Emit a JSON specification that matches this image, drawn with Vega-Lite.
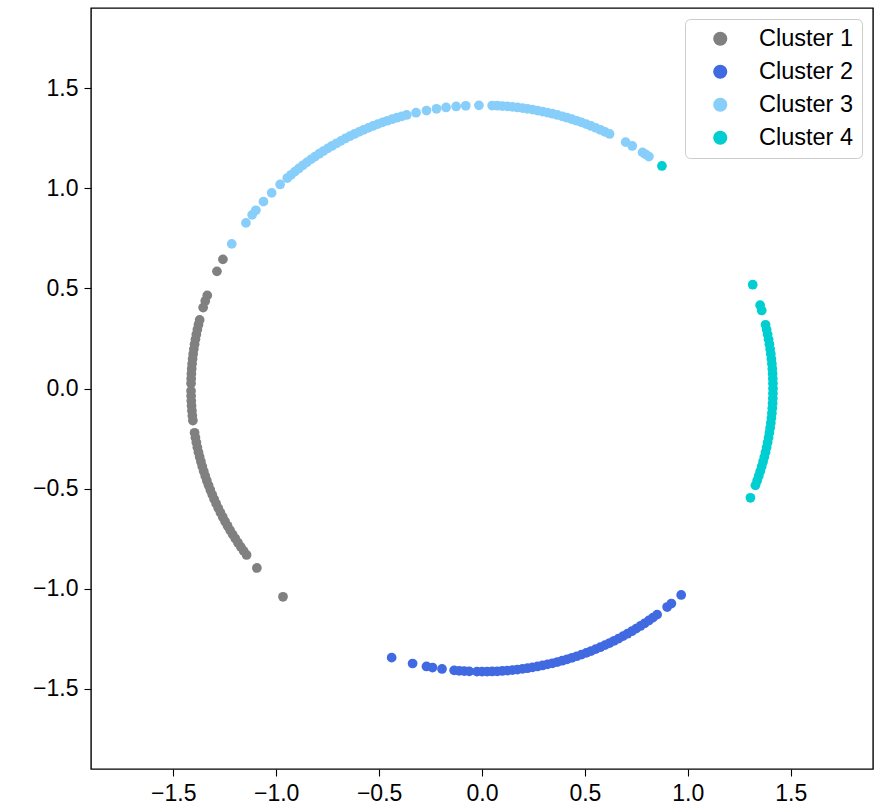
{
  "$schema": "https://vega.github.io/schema/vega-lite/v6.json",
  "width": 782,
  "height": 761,
  "autosize": {"type": "none"},
  "padding": {"left": 91, "top": 8, "right": 9, "bottom": 37},
  "background": "white",
  "config": {
    "view": {"stroke": "black", "strokeWidth": 1.4},
    "font": "Liberation Sans",
    "axis": {"domain": false, "grid": false, "ticks": true, "tickColor": "black", "tickSize": 7, "tickWidth": 1.1, "labelColor": "black", "labelFontSize": 23, "labelFont": "Liberation Sans", "labelPadding": 6, "title": null}
  },
  "data": {"values": [
    {"x": -1.259, "y": 0.645, "cluster": "Cluster 1"},
    {"x": -1.288, "y": 0.585, "cluster": "Cluster 1"},
    {"x": -1.335, "y": 0.465, "cluster": "Cluster 1"},
    {"x": -1.3448, "y": 0.437, "cluster": "Cluster 1"},
    {"x": -1.355, "y": 0.404, "cluster": "Cluster 1"},
    {"x": -1.372, "y": 0.3421, "cluster": "Cluster 1"},
    {"x": -1.3778, "y": 0.3181, "cluster": "Cluster 1"},
    {"x": -1.3831, "y": 0.294, "cluster": "Cluster 1"},
    {"x": -1.388, "y": 0.2698, "cluster": "Cluster 1"},
    {"x": -1.3925, "y": 0.2455, "cluster": "Cluster 1"},
    {"x": -1.3966, "y": 0.2212, "cluster": "Cluster 1"},
    {"x": -1.4002, "y": 0.1968, "cluster": "Cluster 1"},
    {"x": -1.4035, "y": 0.1723, "cluster": "Cluster 1"},
    {"x": -1.4063, "y": 0.1478, "cluster": "Cluster 1"},
    {"x": -1.4086, "y": 0.1232, "cluster": "Cluster 1"},
    {"x": -1.4106, "y": 0.0986, "cluster": "Cluster 1"},
    {"x": -1.4121, "y": 0.074, "cluster": "Cluster 1"},
    {"x": -1.4131, "y": 0.0493, "cluster": "Cluster 1"},
    {"x": -1.4138, "y": 0.0247, "cluster": "Cluster 1"},
    {"x": -1.4139, "y": -0.0123, "cluster": "Cluster 1"},
    {"x": -1.4135, "y": -0.037, "cluster": "Cluster 1"},
    {"x": -1.4127, "y": -0.0617, "cluster": "Cluster 1"},
    {"x": -1.4114, "y": -0.0863, "cluster": "Cluster 1"},
    {"x": -1.4096, "y": -0.1109, "cluster": "Cluster 1"},
    {"x": -1.4075, "y": -0.1355, "cluster": "Cluster 1"},
    {"x": -1.4049, "y": -0.1601, "cluster": "Cluster 1"},
    {"x": -1.3966, "y": -0.2212, "cluster": "Cluster 1"},
    {"x": -1.3925, "y": -0.2455, "cluster": "Cluster 1"},
    {"x": -1.388, "y": -0.2698, "cluster": "Cluster 1"},
    {"x": -1.3831, "y": -0.294, "cluster": "Cluster 1"},
    {"x": -1.3778, "y": -0.3181, "cluster": "Cluster 1"},
    {"x": -1.372, "y": -0.3421, "cluster": "Cluster 1"},
    {"x": -1.3658, "y": -0.366, "cluster": "Cluster 1"},
    {"x": -1.3592, "y": -0.3898, "cluster": "Cluster 1"},
    {"x": -1.3522, "y": -0.4134, "cluster": "Cluster 1"},
    {"x": -1.3448, "y": -0.437, "cluster": "Cluster 1"},
    {"x": -1.337, "y": -0.4604, "cluster": "Cluster 1"},
    {"x": -1.3287, "y": -0.4836, "cluster": "Cluster 1"},
    {"x": -1.3201, "y": -0.5067, "cluster": "Cluster 1"},
    {"x": -1.311, "y": -0.5297, "cluster": "Cluster 1"},
    {"x": -1.3016, "y": -0.5525, "cluster": "Cluster 1"},
    {"x": -1.2918, "y": -0.5751, "cluster": "Cluster 1"},
    {"x": -1.2815, "y": -0.5976, "cluster": "Cluster 1"},
    {"x": -1.2709, "y": -0.6199, "cluster": "Cluster 1"},
    {"x": -1.2599, "y": -0.6419, "cluster": "Cluster 1"},
    {"x": -1.2485, "y": -0.6638, "cluster": "Cluster 1"},
    {"x": -1.2367, "y": -0.6855, "cluster": "Cluster 1"},
    {"x": -1.2246, "y": -0.707, "cluster": "Cluster 1"},
    {"x": -1.212, "y": -0.7283, "cluster": "Cluster 1"},
    {"x": -1.1991, "y": -0.7493, "cluster": "Cluster 1"},
    {"x": -1.1859, "y": -0.7701, "cluster": "Cluster 1"},
    {"x": -1.1723, "y": -0.7907, "cluster": "Cluster 1"},
    {"x": -1.1583, "y": -0.811, "cluster": "Cluster 1"},
    {"x": -1.144, "y": -0.8311, "cluster": "Cluster 1"},
    {"x": -1.094, "y": -0.896, "cluster": "Cluster 1"},
    {"x": -0.967, "y": -1.04, "cluster": "Cluster 1"},
    {"x": -0.439, "y": -1.344, "cluster": "Cluster 2"},
    {"x": -0.3373, "y": -1.3732, "cluster": "Cluster 2"},
    {"x": -0.2698, "y": -1.388, "cluster": "Cluster 2"},
    {"x": -0.2406, "y": -1.3934, "cluster": "Cluster 2"},
    {"x": -0.1943, "y": -1.4006, "cluster": "Cluster 2"},
    {"x": -0.1355, "y": -1.4075, "cluster": "Cluster 2"},
    {"x": -0.1109, "y": -1.4096, "cluster": "Cluster 2"},
    {"x": -0.0863, "y": -1.4114, "cluster": "Cluster 2"},
    {"x": -0.0617, "y": -1.4127, "cluster": "Cluster 2"},
    {"x": -0.0247, "y": -1.4138, "cluster": "Cluster 2"},
    {"x": 0.0, "y": -1.414, "cluster": "Cluster 2"},
    {"x": 0.0247, "y": -1.4138, "cluster": "Cluster 2"},
    {"x": 0.0493, "y": -1.4131, "cluster": "Cluster 2"},
    {"x": 0.074, "y": -1.4121, "cluster": "Cluster 2"},
    {"x": 0.0986, "y": -1.4106, "cluster": "Cluster 2"},
    {"x": 0.1232, "y": -1.4086, "cluster": "Cluster 2"},
    {"x": 0.1478, "y": -1.4063, "cluster": "Cluster 2"},
    {"x": 0.1723, "y": -1.4035, "cluster": "Cluster 2"},
    {"x": 0.1968, "y": -1.4002, "cluster": "Cluster 2"},
    {"x": 0.2212, "y": -1.3966, "cluster": "Cluster 2"},
    {"x": 0.2455, "y": -1.3925, "cluster": "Cluster 2"},
    {"x": 0.2698, "y": -1.388, "cluster": "Cluster 2"},
    {"x": 0.294, "y": -1.3831, "cluster": "Cluster 2"},
    {"x": 0.3181, "y": -1.3778, "cluster": "Cluster 2"},
    {"x": 0.3421, "y": -1.372, "cluster": "Cluster 2"},
    {"x": 0.366, "y": -1.3658, "cluster": "Cluster 2"},
    {"x": 0.3898, "y": -1.3592, "cluster": "Cluster 2"},
    {"x": 0.4134, "y": -1.3522, "cluster": "Cluster 2"},
    {"x": 0.437, "y": -1.3448, "cluster": "Cluster 2"},
    {"x": 0.4604, "y": -1.337, "cluster": "Cluster 2"},
    {"x": 0.4836, "y": -1.3287, "cluster": "Cluster 2"},
    {"x": 0.5067, "y": -1.3201, "cluster": "Cluster 2"},
    {"x": 0.5297, "y": -1.311, "cluster": "Cluster 2"},
    {"x": 0.5525, "y": -1.3016, "cluster": "Cluster 2"},
    {"x": 0.5751, "y": -1.2918, "cluster": "Cluster 2"},
    {"x": 0.5976, "y": -1.2815, "cluster": "Cluster 2"},
    {"x": 0.6199, "y": -1.2709, "cluster": "Cluster 2"},
    {"x": 0.6419, "y": -1.2599, "cluster": "Cluster 2"},
    {"x": 0.6638, "y": -1.2485, "cluster": "Cluster 2"},
    {"x": 0.6855, "y": -1.2367, "cluster": "Cluster 2"},
    {"x": 0.707, "y": -1.2246, "cluster": "Cluster 2"},
    {"x": 0.7283, "y": -1.212, "cluster": "Cluster 2"},
    {"x": 0.7493, "y": -1.1991, "cluster": "Cluster 2"},
    {"x": 0.7701, "y": -1.1859, "cluster": "Cluster 2"},
    {"x": 0.7907, "y": -1.1723, "cluster": "Cluster 2"},
    {"x": 0.811, "y": -1.1583, "cluster": "Cluster 2"},
    {"x": 0.8311, "y": -1.144, "cluster": "Cluster 2"},
    {"x": 0.851, "y": -1.1293, "cluster": "Cluster 2"},
    {"x": 0.8995, "y": -1.0911, "cluster": "Cluster 2"},
    {"x": 0.9202, "y": -1.0736, "cluster": "Cluster 2"},
    {"x": 0.9679, "y": -1.0308, "cluster": "Cluster 2"},
    {"x": -1.216, "y": 0.722, "cluster": "Cluster 3"},
    {"x": -1.147, "y": 0.827, "cluster": "Cluster 3"},
    {"x": -1.117, "y": 0.867, "cluster": "Cluster 3"},
    {"x": -1.0989, "y": 0.8899, "cluster": "Cluster 3"},
    {"x": -1.062, "y": 0.933, "cluster": "Cluster 3"},
    {"x": -1.022, "y": 0.977, "cluster": "Cluster 3"},
    {"x": -0.981, "y": 1.019, "cluster": "Cluster 3"},
    {"x": -0.9462, "y": 1.0508, "cluster": "Cluster 3"},
    {"x": -0.9277, "y": 1.0672, "cluster": "Cluster 3"},
    {"x": -0.9089, "y": 1.0832, "cluster": "Cluster 3"},
    {"x": -0.8899, "y": 1.0989, "cluster": "Cluster 3"},
    {"x": -0.8706, "y": 1.1143, "cluster": "Cluster 3"},
    {"x": -0.851, "y": 1.1293, "cluster": "Cluster 3"},
    {"x": -0.8311, "y": 1.144, "cluster": "Cluster 3"},
    {"x": -0.811, "y": 1.1583, "cluster": "Cluster 3"},
    {"x": -0.7907, "y": 1.1723, "cluster": "Cluster 3"},
    {"x": -0.7701, "y": 1.1859, "cluster": "Cluster 3"},
    {"x": -0.7493, "y": 1.1991, "cluster": "Cluster 3"},
    {"x": -0.7283, "y": 1.212, "cluster": "Cluster 3"},
    {"x": -0.707, "y": 1.2246, "cluster": "Cluster 3"},
    {"x": -0.6855, "y": 1.2367, "cluster": "Cluster 3"},
    {"x": -0.6638, "y": 1.2485, "cluster": "Cluster 3"},
    {"x": -0.6419, "y": 1.2599, "cluster": "Cluster 3"},
    {"x": -0.6199, "y": 1.2709, "cluster": "Cluster 3"},
    {"x": -0.5976, "y": 1.2815, "cluster": "Cluster 3"},
    {"x": -0.5751, "y": 1.2918, "cluster": "Cluster 3"},
    {"x": -0.5525, "y": 1.3016, "cluster": "Cluster 3"},
    {"x": -0.5297, "y": 1.311, "cluster": "Cluster 3"},
    {"x": -0.5067, "y": 1.3201, "cluster": "Cluster 3"},
    {"x": -0.4836, "y": 1.3287, "cluster": "Cluster 3"},
    {"x": -0.4604, "y": 1.337, "cluster": "Cluster 3"},
    {"x": -0.437, "y": 1.3448, "cluster": "Cluster 3"},
    {"x": -0.4134, "y": 1.3522, "cluster": "Cluster 3"},
    {"x": -0.3898, "y": 1.3592, "cluster": "Cluster 3"},
    {"x": -0.366, "y": 1.3658, "cluster": "Cluster 3"},
    {"x": -0.3205, "y": 1.3772, "cluster": "Cluster 3"},
    {"x": -0.2698, "y": 1.388, "cluster": "Cluster 3"},
    {"x": -0.2212, "y": 1.3966, "cluster": "Cluster 3"},
    {"x": -0.1747, "y": 1.4032, "cluster": "Cluster 3"},
    {"x": -0.1257, "y": 1.4084, "cluster": "Cluster 3"},
    {"x": -0.0789, "y": 1.4118, "cluster": "Cluster 3"},
    {"x": -0.0148, "y": 1.4139, "cluster": "Cluster 3"},
    {"x": 0.0493, "y": 1.4131, "cluster": "Cluster 3"},
    {"x": 0.074, "y": 1.4121, "cluster": "Cluster 3"},
    {"x": 0.0986, "y": 1.4106, "cluster": "Cluster 3"},
    {"x": 0.1232, "y": 1.4086, "cluster": "Cluster 3"},
    {"x": 0.1478, "y": 1.4063, "cluster": "Cluster 3"},
    {"x": 0.1723, "y": 1.4035, "cluster": "Cluster 3"},
    {"x": 0.1968, "y": 1.4002, "cluster": "Cluster 3"},
    {"x": 0.2212, "y": 1.3966, "cluster": "Cluster 3"},
    {"x": 0.2455, "y": 1.3925, "cluster": "Cluster 3"},
    {"x": 0.2698, "y": 1.388, "cluster": "Cluster 3"},
    {"x": 0.294, "y": 1.3831, "cluster": "Cluster 3"},
    {"x": 0.3181, "y": 1.3778, "cluster": "Cluster 3"},
    {"x": 0.3421, "y": 1.372, "cluster": "Cluster 3"},
    {"x": 0.366, "y": 1.3658, "cluster": "Cluster 3"},
    {"x": 0.3898, "y": 1.3592, "cluster": "Cluster 3"},
    {"x": 0.4134, "y": 1.3522, "cluster": "Cluster 3"},
    {"x": 0.437, "y": 1.3448, "cluster": "Cluster 3"},
    {"x": 0.4604, "y": 1.337, "cluster": "Cluster 3"},
    {"x": 0.4836, "y": 1.3287, "cluster": "Cluster 3"},
    {"x": 0.5067, "y": 1.3201, "cluster": "Cluster 3"},
    {"x": 0.5297, "y": 1.311, "cluster": "Cluster 3"},
    {"x": 0.5525, "y": 1.3016, "cluster": "Cluster 3"},
    {"x": 0.5751, "y": 1.2918, "cluster": "Cluster 3"},
    {"x": 0.5976, "y": 1.2815, "cluster": "Cluster 3"},
    {"x": 0.6199, "y": 1.2709, "cluster": "Cluster 3"},
    {"x": 0.698, "y": 1.23, "cluster": "Cluster 3"},
    {"x": 0.73, "y": 1.211, "cluster": "Cluster 3"},
    {"x": 0.78, "y": 1.179, "cluster": "Cluster 3"},
    {"x": 0.7948, "y": 1.1695, "cluster": "Cluster 3"},
    {"x": 0.811, "y": 1.1583, "cluster": "Cluster 3"},
    {"x": 0.8744, "y": 1.1113, "cluster": "Cluster 4"},
    {"x": 1.3156, "y": 0.5182, "cluster": "Cluster 4"},
    {"x": 1.3515, "y": 0.4158, "cluster": "Cluster 4"},
    {"x": 1.3592, "y": 0.3898, "cluster": "Cluster 4"},
    {"x": 1.3778, "y": 0.3181, "cluster": "Cluster 4"},
    {"x": 1.3831, "y": 0.294, "cluster": "Cluster 4"},
    {"x": 1.388, "y": 0.2698, "cluster": "Cluster 4"},
    {"x": 1.3925, "y": 0.2455, "cluster": "Cluster 4"},
    {"x": 1.3966, "y": 0.2212, "cluster": "Cluster 4"},
    {"x": 1.4002, "y": 0.1968, "cluster": "Cluster 4"},
    {"x": 1.4035, "y": 0.1723, "cluster": "Cluster 4"},
    {"x": 1.4063, "y": 0.1478, "cluster": "Cluster 4"},
    {"x": 1.4086, "y": 0.1232, "cluster": "Cluster 4"},
    {"x": 1.4106, "y": 0.0986, "cluster": "Cluster 4"},
    {"x": 1.4121, "y": 0.074, "cluster": "Cluster 4"},
    {"x": 1.4131, "y": 0.0493, "cluster": "Cluster 4"},
    {"x": 1.4138, "y": 0.0247, "cluster": "Cluster 4"},
    {"x": 1.414, "y": 0.0, "cluster": "Cluster 4"},
    {"x": 1.4138, "y": -0.0247, "cluster": "Cluster 4"},
    {"x": 1.4131, "y": -0.0493, "cluster": "Cluster 4"},
    {"x": 1.4121, "y": -0.074, "cluster": "Cluster 4"},
    {"x": 1.4106, "y": -0.0986, "cluster": "Cluster 4"},
    {"x": 1.4086, "y": -0.1232, "cluster": "Cluster 4"},
    {"x": 1.4063, "y": -0.1478, "cluster": "Cluster 4"},
    {"x": 1.4035, "y": -0.1723, "cluster": "Cluster 4"},
    {"x": 1.4002, "y": -0.1968, "cluster": "Cluster 4"},
    {"x": 1.3966, "y": -0.2212, "cluster": "Cluster 4"},
    {"x": 1.3925, "y": -0.2455, "cluster": "Cluster 4"},
    {"x": 1.388, "y": -0.2698, "cluster": "Cluster 4"},
    {"x": 1.3831, "y": -0.294, "cluster": "Cluster 4"},
    {"x": 1.3778, "y": -0.3181, "cluster": "Cluster 4"},
    {"x": 1.372, "y": -0.3421, "cluster": "Cluster 4"},
    {"x": 1.3658, "y": -0.366, "cluster": "Cluster 4"},
    {"x": 1.3592, "y": -0.3898, "cluster": "Cluster 4"},
    {"x": 1.3522, "y": -0.4134, "cluster": "Cluster 4"},
    {"x": 1.3448, "y": -0.437, "cluster": "Cluster 4"},
    {"x": 1.337, "y": -0.4604, "cluster": "Cluster 4"},
    {"x": 1.3287, "y": -0.4836, "cluster": "Cluster 4"},
    {"x": 1.3044, "y": -0.5457, "cluster": "Cluster 4"}
  ]},
  "mark": {"type": "circle", "size": 95, "opacity": 1},
  "encoding": {
    "x": {"field": "x", "type": "quantitative", "scale": {"domain": [-1.9, 1.9], "nice": false, "zero": false},
      "axis": {"values": [-1.5, -1, -0.5, 0, 0.5, 1, 1.5], "format": ".1f"}},
    "y": {"field": "y", "type": "quantitative", "scale": {"domain": [-1.9, 1.9], "nice": false, "zero": false},
      "axis": {"values": [-1.5, -1, -0.5, 0, 0.5, 1, 1.5], "format": ".1f"}},
    "color": {"field": "cluster", "type": "nominal",
      "scale": {"domain": ["Cluster 1", "Cluster 2", "Cluster 3", "Cluster 4"], "range": ["#808080", "#4169E1", "#87CEFA", "#00CED1"]},
      "legend": {"title": null, "orient": "none", "legendX": 594, "legendY": 11, "padding": 8, "strokeColor": "#cccccc", "fillColor": "white", "cornerRadius": 5, "symbolType": "circle", "symbolSize": 200, "symbolOpacity": 1, "symbolStrokeWidth": 0, "symbolOffset": 15.5, "labelOffset": 27, "labelFontSize": 23.5, "labelFont": "Liberation Sans", "labelColor": "black", "rowPadding": 8}
    }
  }
}
